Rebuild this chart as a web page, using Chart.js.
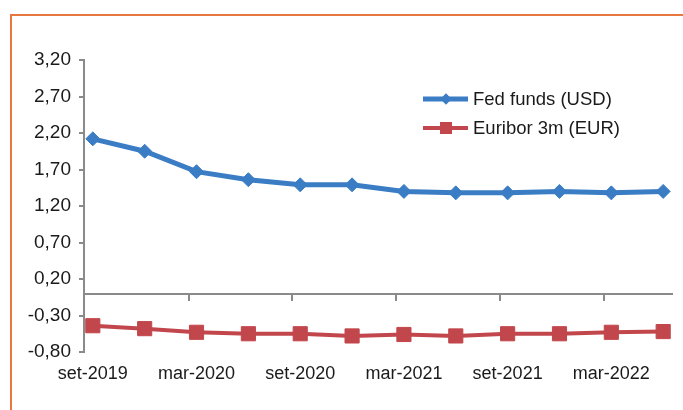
<!DOCTYPE html>
<html>
<head>
<meta charset="utf-8">
<script src="https://cdn.jsdelivr.net/npm/chart.js@4.4.0/dist/chart.umd.min.js"></script>
<style>
  html, body { margin: 0; padding: 0; background: #fff; }
  #wrap { position: relative; width: 683px; height: 410px; overflow: hidden; font-family: "Liberation Sans", Arial, sans-serif; }
  #frame { position: absolute; left: 10px; top: 14px; width: 700px; height: 420px; border-left: 2px solid #e8773f; border-top: 2px solid #e8773f; }
  #chart { position: absolute; left: 0; top: 0; }
  #legend { position: absolute; left: 423px; top: 84px; font-size: 18.5px; color: #1a1a1a; }
  #legend .row { display: flex; align-items: center; height: 29px; }
  #legend .sym { position: relative; width: 45px; height: 16px; margin-right: 5px; }
  #legend .ln { position: absolute; left: 0; right: 0; top: 50%; transform: translateY(-50%); }
  #legend .mk { position: absolute; left: 50%; top: 50%; }
</style>
</head>
<body>
<div id="wrap">
  <div id="frame"></div>
  <canvas id="chart" width="683" height="410"></canvas>
  <div id="legend"></div>
</div>
<script>
const categories = ["set-2019", "dic-2019", "mar-2020", "giu-2020", "set-2020", "dic-2020",
                    "mar-2021", "giu-2021", "set-2021", "dic-2021", "mar-2022", "giu-2022"];
const fedFunds = [2.12, 1.95, 1.67, 1.56, 1.49, 1.49, 1.40, 1.38, 1.38, 1.40, 1.38, 1.40];
const euribor3m = [-0.44, -0.48, -0.53, -0.55, -0.55, -0.58, -0.56, -0.58, -0.55, -0.55, -0.53, -0.52];
const yMin = -0.8;
const yMax = 3.2;
const yStep = 0.5;

const blue = "#3b7dc4";
const red = "#c2474c";
const axisGray = "#8a8a8a";
const textColor = "#1a1a1a";
const xFont = { family: "'Liberation Sans', Arial, sans-serif", size: 18 };
const yFont = { family: "'Liberation Sans', Arial, sans-serif", size: 19 };

// indices of the labelled categories (every second one)
const labelTicks = () => categories.map((c, i) => ({ value: i })).filter(t => t.value % 2 === 0);

const datasets = [
  {
    label: "Fed funds (USD)",
    data: fedFunds.map((v, i) => ({ x: i, y: v })),
    borderColor: blue,
    backgroundColor: blue,
    borderWidth: 5,
    pointStyle: "rectRot",
    pointRadius: 7,
    pointBorderWidth: 1,
    tension: 0
  },
  {
    label: "Euribor 3m (EUR)",
    data: euribor3m.map((v, i) => ({ x: i, y: v })),
    borderColor: red,
    backgroundColor: red,
    borderWidth: 4,
    pointStyle: "rect",
    pointRadius: 10,
    pointBorderWidth: 1,
    tension: 0
  }
];

new Chart(document.getElementById("chart"), {
  type: "line",
  data: { datasets: datasets },
  options: {
    responsive: false,
    animation: false,
    layout: { padding: { left: 0, right: 10, top: 60, bottom: 0 } },
    plugins: { legend: { display: false }, tooltip: { enabled: false } },
    scales: {
      x: {
        type: "linear",
        min: -0.17,
        max: 11.17,
        position: "bottom",
        grid: { display: false, drawTicks: false },
        border: { display: false },
        ticks: {
          autoSkip: false,
          maxRotation: 0,
          padding: 11,
          color: textColor,
          font: xFont,
          callback: v => categories[v]
        },
        afterBuildTicks: s => { s.ticks = labelTicks(); },
        afterFit: s => { s.height = 58; }
      },
      // zero line with its small tick marks
      x0: {
        type: "linear",
        axis: "x",
        min: -0.17,
        max: 11.17,
        position: { y: 0 },
        grid: { drawOnChartArea: false, color: axisGray, lineWidth: 2, tickLength: 6 },
        border: { color: axisGray, width: 2 },
        ticks: { display: false },
        afterBuildTicks: s => { s.ticks = labelTicks().filter(t => t.value > 0).map(t => ({ value: t.value - 0.15 })); }
      },
      y: {
        min: yMin,
        max: yMax,
        grid: { drawOnChartArea: false, color: axisGray, lineWidth: 2, tickLength: 5 },
        border: { color: axisGray, width: 2 },
        ticks: {
          stepSize: yStep,
          padding: 8,
          color: textColor,
          font: yFont,
          callback: v => v.toFixed(2).replace(".", ",")
        },
        afterFit: s => { s.width = 84; }
      }
    }
  }
});

// html legend: line with the marker in the middle
const legend = document.getElementById("legend");
datasets.forEach(ds => {
  const row = document.createElement("div");
  row.className = "row";
  const sym = document.createElement("span");
  sym.className = "sym";
  const ln = document.createElement("span");
  ln.className = "ln";
  ln.style.height = ds.borderWidth + "px";
  ln.style.background = ds.borderColor;
  const mk = document.createElement("span");
  mk.className = "mk";
  mk.style.background = ds.backgroundColor;
  if (ds.pointStyle === "rectRot") {
    mk.style.width = "8px";
    mk.style.height = "8px";
    mk.style.transform = "translate(-50%, -50%) rotate(45deg)";
  } else {
    mk.style.width = "12px";
    mk.style.height = "12px";
    mk.style.transform = "translate(-50%, -50%)";
  }
  sym.appendChild(ln);
  sym.appendChild(mk);
  const txt = document.createElement("span");
  txt.textContent = ds.label;
  row.appendChild(sym);
  row.appendChild(txt);
  legend.appendChild(row);
});
</script>
</body>
</html>
